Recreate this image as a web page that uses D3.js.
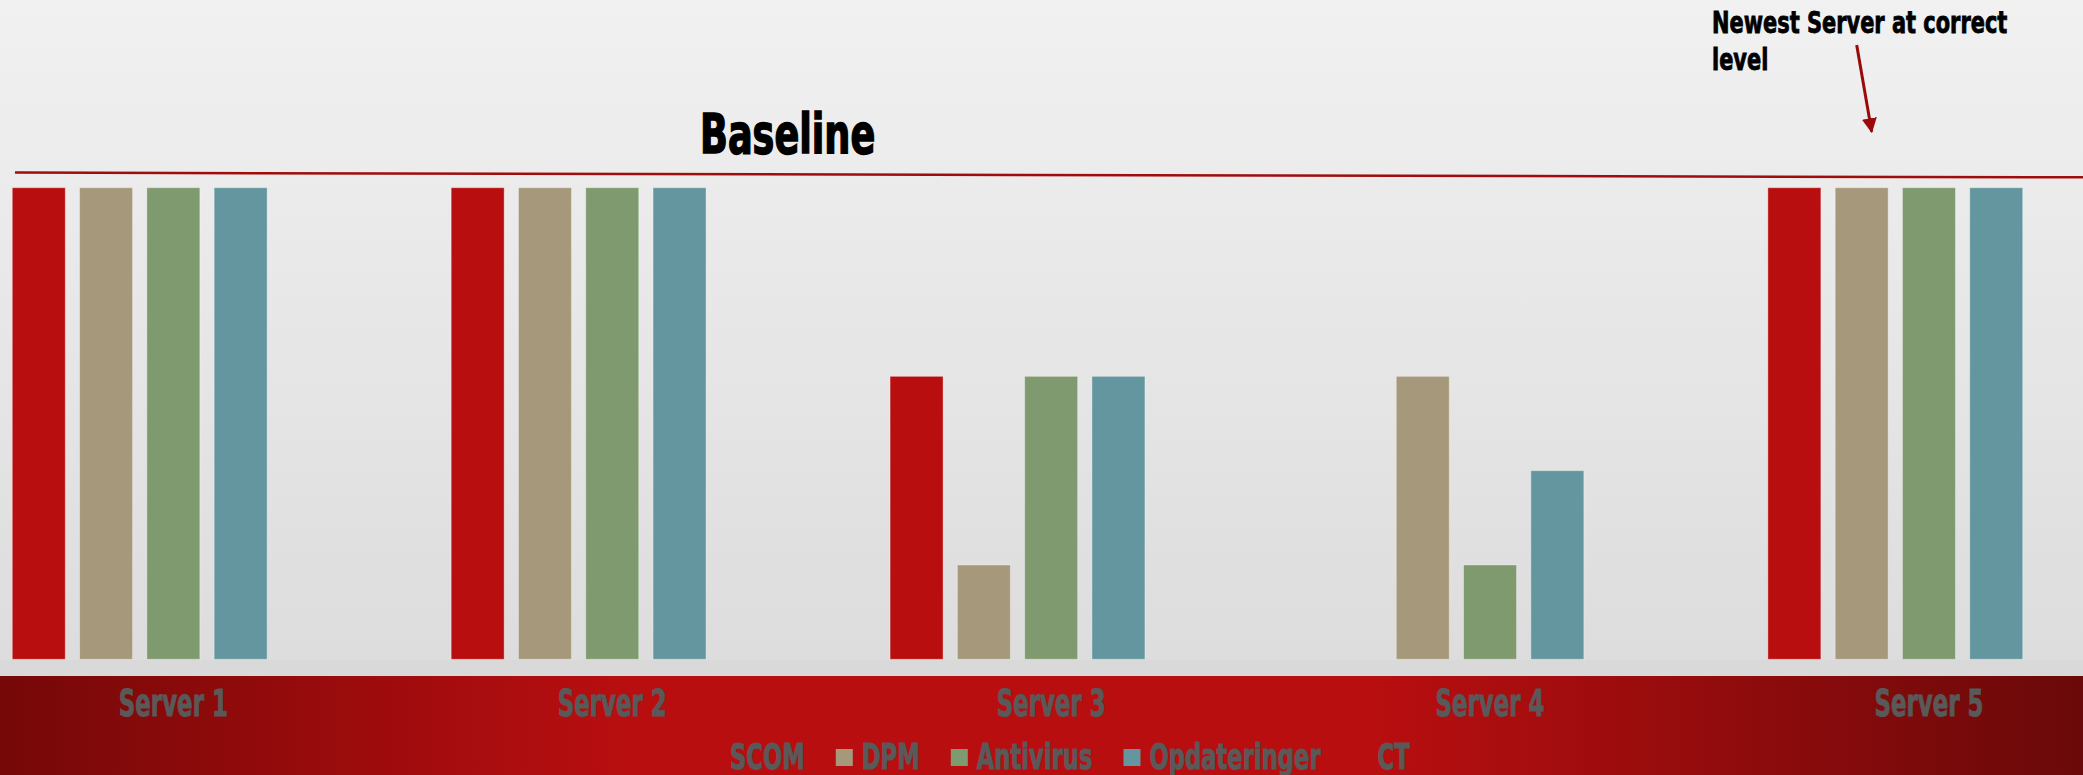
<!DOCTYPE html>
<html>
<head>
<meta charset="utf-8">
<script src="https://cdn.jsdelivr.net/npm/d3@7"></script>
<style>
  html, body { margin: 0; padding: 0; background: #e6e6e6; overflow: hidden; }
  svg { display: block; }
  .cond { font-family: 'DejaVu Sans Condensed', 'DejaVu Sans', sans-serif; font-weight: bold; font-stretch: condensed; }
</style>
</head>
<body>
<svg id="chart" width="2083" height="775"></svg>
<script>
// ---------- data ----------
const categories = ["Server 1", "Server 2", "Server 3", "Server 4", "Server 5"];
const seriesNames = ["SCOM", "DPM", "Antivirus", "Opdateringer", "CT"];
const scomValues = [5, 5, 3, 0, 5];
const dpmValues = [5, 5, 1, 3, 5];
const antivirusValues = [5, 5, 3, 1, 5];
const opdateringerValues = [5, 5, 3, 2, 5];
const ctValues = [0, 0, 0, 0, 0];
const seriesColors = ["#b90e0f", "#a6997b", "#7f9a6f", "#6496a0", "#b80e10"];
const yDomain = [0, 5];
const baselineLevels = [5.16, 5.11]; // left / right end of the drawn baseline
const baselineLabel = "Baseline";
const noteLines = ["Newest Server at correct", "level"];

const seriesValues = [scomValues, dpmValues, antivirusValues, opdateringerValues, ctValues];
const rows = categories.map((c, i) => ({
  category: c,
  values: seriesNames.map((s, j) => ({ series: s, value: seriesValues[j][i], color: seriesColors[j] }))
}));

// ---------- layout ----------
const W = 2083, H = 775;
const svg = d3.select("#chart");
const defs = svg.append("defs");

const bg = defs.append("linearGradient").attr("id", "bg").attr("x1", 0).attr("y1", 0).attr("x2", 0).attr("y2", 1);
bg.append("stop").attr("offset", "0%").attr("stop-color", "#f1f1f1");
bg.append("stop").attr("offset", "100%").attr("stop-color", "#d9d9d9");

const band = defs.append("linearGradient").attr("id", "band").attr("x1", 0).attr("y1", 0).attr("x2", 1).attr("y2", 0);
band.append("stop").attr("offset", "0%").attr("stop-color", "#760808");
band.append("stop").attr("offset", "30%").attr("stop-color", "#b80e10");
band.append("stop").attr("offset", "66%").attr("stop-color", "#b80e10");
band.append("stop").attr("offset", "100%").attr("stop-color", "#6a0909");

svg.append("rect").attr("width", W).attr("height", H).attr("fill", "url(#bg)");
svg.append("rect").attr("x", 0).attr("y", 660).attr("width", W).attr("height", 17).attr("fill", "#d9d9d9");
svg.append("rect").attr("x", 0).attr("y", 676).attr("width", W).attr("height", H - 676).attr("fill", "url(#band)");

// scales
const x0 = d3.scaleBand().domain(categories).range([-46.1, 2148.4]).paddingInner(0.266).paddingOuter(0.133);
const x1 = d3.scaleBand().domain(seriesNames).range([0, x0.bandwidth()]).paddingInner(0.2125).paddingOuter(0);
const y = d3.scaleLinear().domain(yDomain).range([659.3, 187.7]);

// bars
const groups = svg.append("g").selectAll("g").data(rows).join("g")
  .attr("transform", d => `translate(${x0(d.category)},0)`);
groups.selectAll("rect").data(d => d.values.filter(v => v.value > 0)).join("rect")
  .attr("x", d => x1(d.series))
  .attr("y", d => y(d.value))
  .attr("width", x1.bandwidth())
  .attr("height", d => y(0) - y(d.value))
  .attr("fill", d => d.color)
  .attr("stroke", "rgba(255,255,255,0.35)")
  .attr("stroke-width", 1);

// helper to compress condensed text to an Impact-like width
function squeeze(sel, k) {
  sel.each(function () {
    const w = this.getComputedTextLength();
    d3.select(this).attr("textLength", w * k).attr("lengthAdjust", "spacingAndGlyphs");
  });
}

// category labels
const catLabels = svg.append("g").selectAll("text").data(categories).join("text")
  .attr("class", "cond")
  .attr("x", d => x0(d) + x0.bandwidth() / 2)
  .attr("y", 716)
  .attr("text-anchor", "middle")
  .attr("font-size", 38)
  .attr("fill", "#595959")
  .attr("stroke", "#595959").attr("stroke-width", 1)
  .text(d => d);
squeeze(catLabels, 0.67);

// legend
const legend = svg.append("g").attr("transform", "translate(704,0)");
let lx = 0;
const kLeg = 0.70;
seriesNames.forEach((s, i) => {
  legend.append("rect").attr("x", lx).attr("y", 749).attr("width", 17).attr("height", 17).attr("fill", seriesColors[i]);
  const t = legend.append("text").attr("class", "cond").attr("x", lx + 26).attr("y", 769)
    .attr("font-size", 36).attr("fill", "#595959")
    .attr("stroke", "#595959").attr("stroke-width", 1).text(s);
  const w = t.node().getComputedTextLength();
  squeeze(t, kLeg);
  lx += 26 + w * kLeg + 31;
});

// baseline annotation line
svg.append("line")
  .attr("x1", 15).attr("y1", y(baselineLevels[0]))
  .attr("x2", W).attr("y2", y(baselineLevels[1]))
  .attr("stroke", "#9e0c0c").attr("stroke-width", 2.5);

const bl = svg.append("text").attr("class", "cond").attr("x", 700).attr("y", 152.7)
  .attr("font-size", 55).attr("fill", "#000").attr("stroke", "#000").attr("stroke-width", 1.5)
  .text(baselineLabel);
squeeze(bl, 0.74);

// note
noteLines.forEach((l, i) => {
  const t = svg.append("text").attr("class", "cond").attr("x", 1712).attr("y", 33.3 + i * 36.7)
    .attr("font-size", 30).attr("fill", "#000").attr("stroke", "#000").attr("stroke-width", 0.8).text(l);
  squeeze(t, 0.775);
});

// arrow
defs.append("marker").attr("id", "arrow").attr("viewBox", "0 0 10 10").attr("refX", 9).attr("refY", 5)
  .attr("markerWidth", 5).attr("markerHeight", 5).attr("markerUnits", "strokeWidth").attr("orient", "auto")
  .append("path").attr("d", "M0,0 L10,5 L0,10 Z").attr("fill", "#9a0a0a");
svg.append("line").attr("x1", 1856.7).attr("y1", 45).attr("x2", 1871.7).attr("y2", 131.7)
  .attr("stroke", "#9a0a0a").attr("stroke-width", 3).attr("marker-end", "url(#arrow)");
</script>
</body>
</html>
